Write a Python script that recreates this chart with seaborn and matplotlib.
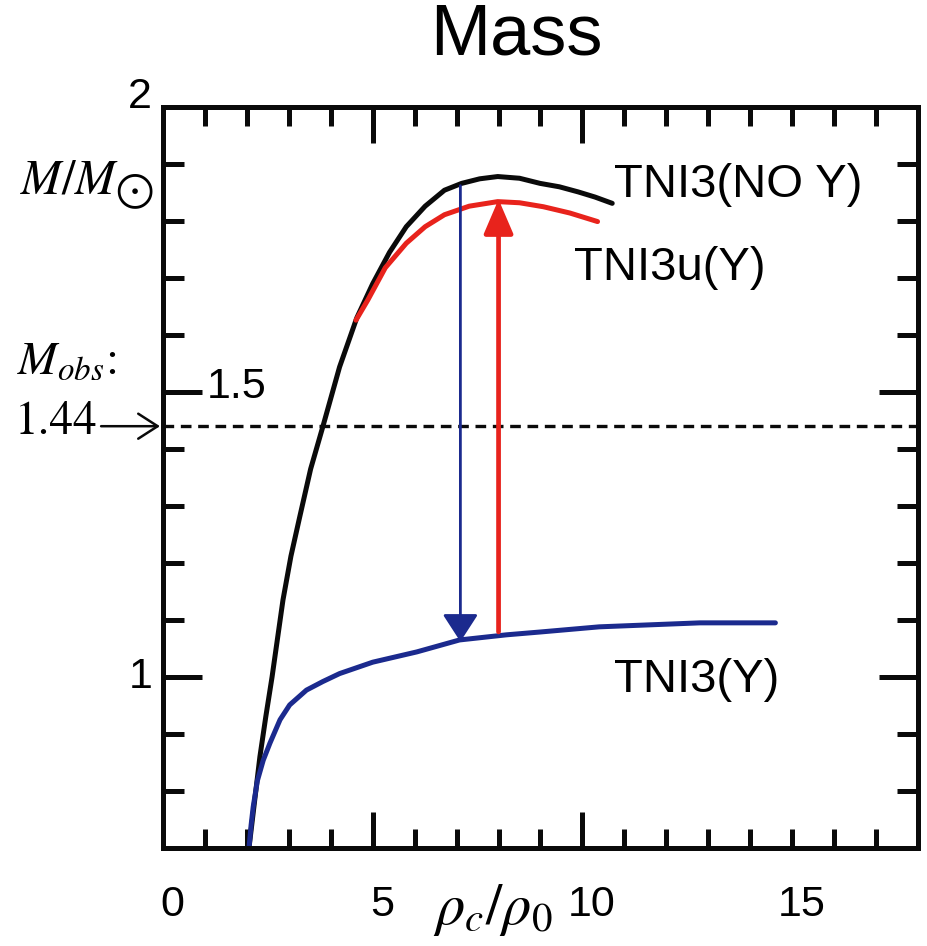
import numpy as np
import pandas as pd
import matplotlib
matplotlib.use("Agg")
import matplotlib.pyplot as plt
import seaborn as sns

# === dados ===
black_x = [2.05, 2.18, 2.31, 2.45, 2.60, 2.86, 3.05, 3.26, 3.52, 3.81, 4.21, 4.62, 5.00, 5.40, 5.80, 6.25, 6.71, 7.12, 7.55, 7.98, 8.50, 8.99, 9.45, 9.90, 10.30, 10.71]
black_y = [0.70, 0.78, 0.86, 0.93, 1.00, 1.135, 1.212, 1.281, 1.365, 1.439, 1.544, 1.630, 1.690, 1.745, 1.790, 1.826, 1.854, 1.866, 1.874, 1.878, 1.875, 1.866, 1.860, 1.851, 1.842, 1.831]

red_x = [4.60, 4.88, 5.30, 5.80, 6.25, 6.71, 7.30, 7.98, 8.50, 9.07, 9.70, 10.36]
red_y = [1.626, 1.661, 1.718, 1.761, 1.790, 1.811, 1.826, 1.834, 1.832, 1.825, 1.814, 1.799]

blue_x = [2.05, 2.10, 2.15, 2.25, 2.39, 2.55, 2.79, 3.02, 3.42, 3.81, 4.21, 5.00, 6.05, 7.07, 8.19, 9.00, 10.40, 12.80, 14.60]
blue_y = [0.70, 0.74, 0.772, 0.818, 0.854, 0.884, 0.925, 0.951, 0.977, 0.992, 1.006, 1.026, 1.044, 1.065, 1.074, 1.079, 1.088, 1.095, 1.095]

m_obs = 1.44

# setas: (x, de, até)
arrow_blue = (7.09, 1.862, 1.062)
arrow_red = (8.00, 1.079, 1.838)

x_major = [5, 10]
x_minor = [1, 2, 3, 4, 6, 7, 8, 9, 11, 12, 13, 14, 15, 16, 17]
x_labels = [0, 5, 10, 15]
y_major = [1.0, 1.5]
y_minor = [0.8, 0.9, 1.1, 1.2, 1.3, 1.4, 1.6, 1.7, 1.8, 1.9]

BLACK = "#0a0a0a"
RED = "#e8231c"
BLUE = "#1b2a8e"

# === estilo ===
sns.set_style("ticks")
plt.rcParams["font.family"] = ["Liberation Sans", "DejaVu Sans"]
plt.rcParams["mathtext.fontset"] = "stix"
plt.rcParams["text.color"] = "black"

fig = plt.figure(figsize=(9.28, 9.46), dpi=100)
ax = fig.add_axes([163 / 928, 1 - 848 / 946, 755 / 928, 741 / 946])

curvas = [
    (pd.DataFrame({"rho": black_x, "mass": black_y}), BLACK),
    (pd.DataFrame({"rho": red_x, "mass": red_y}), RED),
    (pd.DataFrame({"rho": blue_x, "mass": blue_y}), BLUE),
]
for df, cor in curvas:
    sns.lineplot(data=df, x="rho", y="mass", color=cor, lw=3.6, sort=False,
                 estimator=None, ax=ax, solid_capstyle="round", solid_joinstyle="round")

# linha tracejada M_obs
ax.axhline(m_obs, color=BLACK, lw=2.4, ls=(0, (3.2, 2.0)))

# setas verticais
ax.annotate("", xy=(arrow_blue[0], arrow_blue[2]), xytext=(arrow_blue[0], arrow_blue[1]),
            arrowprops=dict(arrowstyle="-|>,head_length=0.85,head_width=0.55",
                            color=BLUE, lw=2.0, mutation_scale=20, shrinkA=0, shrinkB=0))
ax.annotate("", xy=(arrow_red[0], arrow_red[2]), xytext=(arrow_red[0], arrow_red[1]),
            arrowprops=dict(arrowstyle="-|>,head_length=1.05,head_width=0.45",
                            color=RED, lw=3.4, mutation_scale=20, shrinkA=0, shrinkB=0))

ax.set_xlim(0, 18)
ax.set_ylim(0.7, 2.0)
ax.set_xlabel("")
ax.set_ylabel("")

# ticks para dentro nos quatro lados
ax.set_xticks(x_major)
ax.set_xticks(x_minor, minor=True)
ax.set_yticks(y_major)
ax.set_yticks(y_minor, minor=True)
ax.set_xticklabels([])
ax.set_yticklabels([])
ax.tick_params(which="both", direction="in", top=True, right=True, width=3.6, color=BLACK)
ax.tick_params(axis="x", which="major", length=26)
ax.tick_params(axis="x", which="minor", length=14)
ax.tick_params(axis="y", which="major", length=28)
ax.tick_params(axis="y", which="minor", length=15)
for s in ax.spines.values():
    s.set_visible(True)
    s.set_linewidth(3.6)
    s.set_color(BLACK)

# rótulos do eixo x
for v in x_labels:
    ax.text(v + 0.22, -0.077, str(v), transform=ax.get_xaxis_transform(),
            ha="center", va="center", fontsize=31, clip_on=False)

# rótulos do eixo y
fig.text(140 / 928, 1 - 97 / 946, "2", ha="center", va="center", fontsize=31)
fig.text(141 / 928, 1 - 677 / 946, "1", ha="center", va="center", fontsize=31)
ax.text(1.05, 1.509, "1.5", ha="left", va="center", fontsize=31)

# nomes das curvas
ax.text(10.76, 1.863, "TNI3(NO Y)", ha="left", va="center", fontsize=34)
ax.text(9.81, 1.718, "TNI3u(Y)", ha="left", va="center", fontsize=34)
ax.text(10.76, 0.995, "TNI3(Y)", ha="left", va="center", fontsize=34)

# textos matemáticos
fig.text(20 / 928, 1 - 185 / 946, r"$M/M_{\bigodot}$", ha="left", va="center", fontsize=35)
fig.text(17 / 928, 1 - 362 / 946, r"$M_{obs}$:", ha="left", va="center", fontsize=34,
         family="STIXGeneral")
fig.text(15 / 928, 1 - 423 / 946, "1.44", ha="left", va="center", fontsize=34,
         family="STIXGeneral")
ax.annotate("", xy=(-0.004, m_obs), xytext=(-0.082, m_obs),
            xycoords=("axes fraction", "data"), textcoords=("axes fraction", "data"),
            arrowprops=dict(arrowstyle="->,head_length=0.7,head_width=0.45",
                            color=BLACK, lw=1.8, mutation_scale=20, shrinkA=0, shrinkB=0),
            annotation_clip=False)
fig.text(493 / 928, 1 - 910 / 946, r"$\rho_c/\rho_0$", ha="center", va="center", fontsize=42)

fig.suptitle("Mass", x=516 / 928, y=1 - 36 / 946, va="center", fontsize=52, color="black")

plt.savefig("out.png", dpi=100)
